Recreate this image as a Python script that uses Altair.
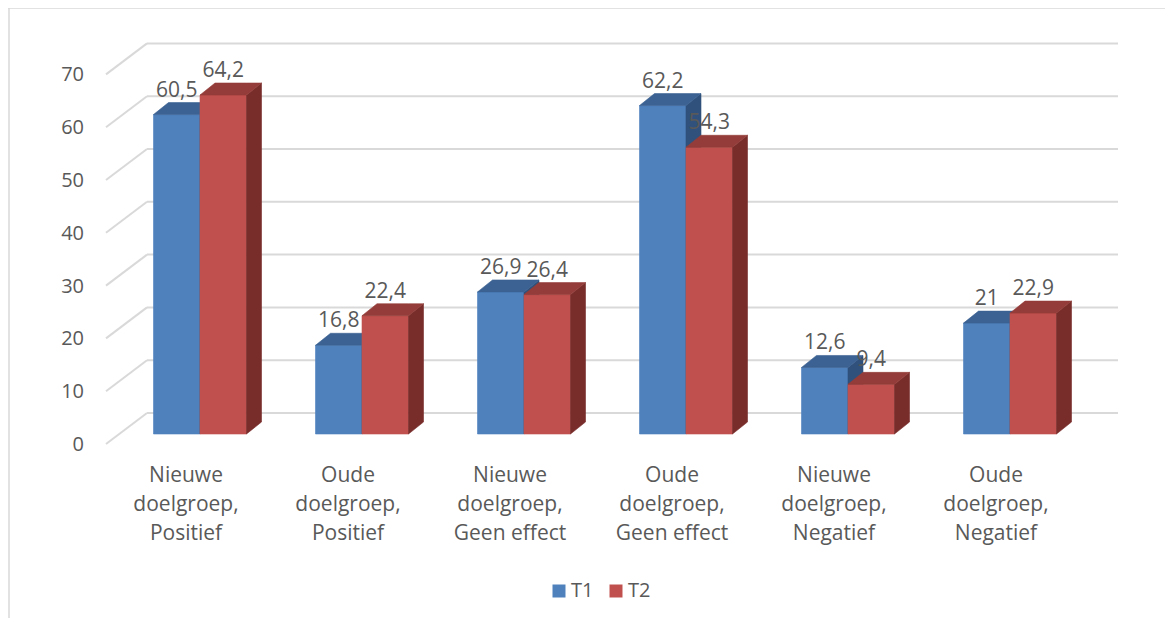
import altair as alt
import pandas as pd

# ---- data ----
category_lines = [
    ["Nieuwe", "doelgroep,", "Positief"],
    ["Oude", "doelgroep,", "Positief"],
    ["Nieuwe", "doelgroep,", "Geen effect"],
    ["Oude", "doelgroep,", "Geen effect"],
    ["Nieuwe", "doelgroep,", "Negatief"],
    ["Oude", "doelgroep,", "Negatief"],
]
series_names = ["T1", "T2"]
t1_values = [60.5, 16.8, 26.9, 62.2, 12.6, 21.0]
t2_values = [64.2, 22.4, 26.4, 54.3, 9.4, 22.9]
y_ticks = [0, 10, 20, 30, 40, 50, 60, 70]

# ---- layout / style constants ----
W, H = 1157, 610
PX_X = 162.0          # px per category slot
PX_Y = 5.28           # px per value unit
X0 = 192.0            # chart px of category index 0 (boundary T1|T2)
Y0 = 426.0            # chart px of value 0 (front plane)
BW = 46.5 / PX_X      # bar width
DX = 15.0 / PX_X      # depth x
DY = 12.0 / PX_Y      # depth y
BACK = 21.0 / PX_Y    # back wall offset
DIAG_FRONT = -10.0 / PX_Y
WALL_LEFT = (147 - 200) / PX_X
DIAG_LEFT = (106 - 200) / PX_X
WALL_RIGHT = (1118 - 200) / PX_X

FONT = "Open Sans"
TXT = "#595959"
GRID = "#d9d9d9"
front_col = {"T1": "#4F81BD", "T2": "#C0504D"}
top_col = {"T1": "#3B6292", "T2": "#933C39"}
side_col = {"T1": "#30517B", "T2": "#782D2B"}

xs = alt.Scale(domain=[-X0 / PX_X, (W - X0) / PX_X], nice=False, zero=False)
ys = alt.Scale(domain=[-(H - Y0) / PX_Y, Y0 / PX_Y], nice=False, zero=False)

def fmt(v):
    s = f"{v:g}"
    return s.replace(".", ",")

# bars
fronts, sides, tops, labels = [], [], [], []
for s_idx, (sname, vals) in enumerate(zip(series_names, [t1_values, t2_values])):
    for i, v in enumerate(vals):
        xl = i - BW if s_idx == 0 else i
        xr = xl + BW
        bid = f"{sname}-{i}"
        fronts.append({"series": sname, "id": bid, "xl": xl, "xr": xr, "v": v})
        sides += [
            {"series": sname, "id": bid, "x": xr, "top": v, "bot": 0.0},
            {"series": sname, "id": bid, "x": xr + DX, "top": v + DY, "bot": DY},
        ]
        tops += [
            {"series": sname, "id": bid, "x": xl, "top": v, "bot": v},
            {"series": sname, "id": bid, "x": xl + DX, "top": v + DY, "bot": v},
            {"series": sname, "id": bid, "x": xr, "top": v + DY, "bot": v},
            {"series": sname, "id": bid, "x": xr + DX, "top": v + DY, "bot": v + DY},
        ]
        labels.append({"series": sname, "x": (xl + xr) / 2, "y": v + 24.0 / PX_Y, "txt": fmt(v)})

front_df = pd.DataFrame(fronts)
side_df = pd.DataFrame(sides)
top_df = pd.DataFrame(tops)
label_df = pd.DataFrame(labels)

grid_df = pd.DataFrame({
    "xa": [DIAG_LEFT] * len(y_ticks),
    "xb": [WALL_LEFT] * len(y_ticks),
    "xc": [WALL_RIGHT] * len(y_ticks),
    "yf": [t + DIAG_FRONT for t in y_ticks],
    "yb": [t + BACK for t in y_ticks],
    "ylab": [t - 11.0 / PX_Y for t in y_ticks],
    "xlab": [(84 - 200) / PX_X] * len(y_ticks),
    "lab": [str(t) for t in y_ticks],
})

xlab_rows = []
for i, lines in enumerate(category_lines):
    for j, line in enumerate(lines):
        xlab_rows.append({"x": i - 14.0 / PX_X, "y": -48.0 / PX_Y - j * 29.0 / PX_Y, "txt": line})
xlab_df = pd.DataFrame(xlab_rows)

base_x = lambda f: alt.X(f, scale=xs, axis=None)
base_y = lambda f: alt.Y(f, scale=ys, axis=None)

layers = []
# back wall gridlines
layers.append(alt.Chart(grid_df).mark_rule(color=GRID, strokeWidth=2).encode(
    x=base_x("xb:Q"), x2="xc:Q", y=base_y("yb:Q"), y2="yb:Q"))
# side wall diagonals
layers.append(alt.Chart(grid_df).mark_rule(color=GRID, strokeWidth=2).encode(
    x=base_x("xa:Q"), x2="xb:Q", y=base_y("yf:Q"), y2="yb:Q"))
# y labels
layers.append(alt.Chart(grid_df).mark_text(
    font=FONT, fontSize=20, color=TXT, align="right", baseline="middle").encode(
    x=base_x("xlab:Q"), y=base_y("ylab:Q"), text="lab:N"))

color_scale = alt.Scale(domain=series_names, range=[front_col[s] for s in series_names])
for sname in series_names:
    fd = front_df[front_df.series == sname]
    sd = side_df[side_df.series == sname]
    td = top_df[top_df.series == sname]
    layers.append(alt.Chart(fd).mark_rect(strokeWidth=0.6).encode(
        x=base_x("xl:Q"), x2="xr:Q", y=base_y("v:Q"), y2=alt.datum(0),
        color=alt.Color("series:N", scale=color_scale, legend=alt.Legend(
            title=None, orient="none", legendX=541, legendY=573, direction="horizontal",
            symbolType="square", symbolSize=169, symbolStrokeWidth=0,
            labelFont=FONT, labelFontSize=20, labelColor=TXT,
            labelOffset=2, columnPadding=12, padding=0)),
        stroke=alt.value(front_col[sname])))
    layers.append(alt.Chart(sd).mark_area(color=side_col[sname], stroke=side_col[sname],
                                          strokeWidth=0.6, opacity=1).encode(
        x=base_x("x:Q"), y=base_y("top:Q"), y2="bot:Q", detail="id:N"))
    layers.append(alt.Chart(td).mark_area(color=top_col[sname], stroke=top_col[sname],
                                          strokeWidth=0.6, opacity=1).encode(
        x=base_x("x:Q"), y=base_y("top:Q"), y2="bot:Q", detail="id:N"))

# data labels
layers.append(alt.Chart(label_df).mark_text(
    font=FONT, fontSize=21, color=TXT, align="center", baseline="middle").encode(
    x=base_x("x:Q"), y=base_y("y:Q"), text="txt:N"))
# category labels
layers.append(alt.Chart(xlab_df).mark_text(
    font=FONT, fontSize=21, color=TXT, align="center", baseline="alphabetic").encode(
    x=base_x("x:Q"), y=base_y("y:Q"), text="txt:N"))
# chart border (left and top)
layers.append(alt.Chart(grid_df.head(1)).mark_rule(color=GRID, strokeWidth=1.5).encode(
    x=alt.value(1), y=alt.value(0), y2=alt.value(H)))
layers.append(alt.Chart(grid_df.head(1)).mark_rule(color=GRID, strokeWidth=1.5).encode(
    x=alt.value(0), x2=alt.value(W), y=alt.value(0)))

chart = alt.layer(*layers).properties(
    width=W, height=H, padding=0, autosize=alt.AutoSizeParams(type="none"),
    background="white",
).configure_view(stroke=None)

chart.save("out.html", embed_options={"renderer": "svg", "actions": False})
